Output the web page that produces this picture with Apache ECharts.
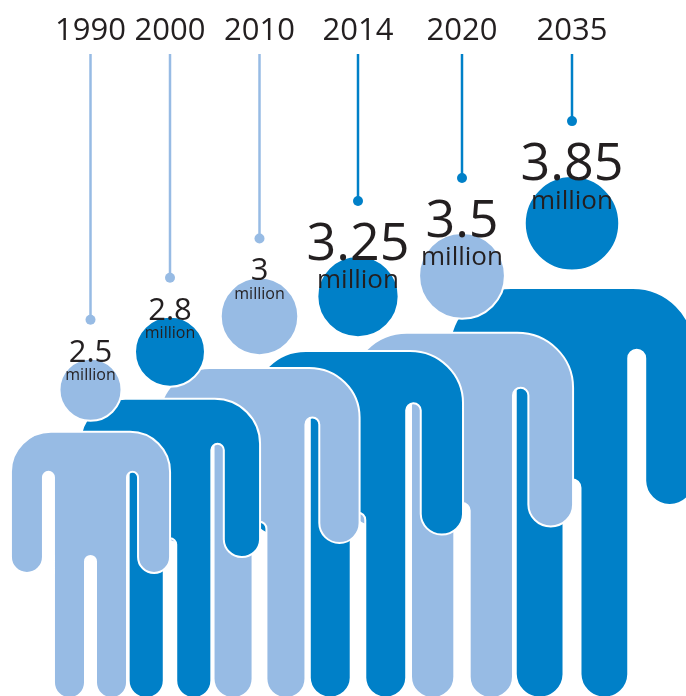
<!DOCTYPE html>
<html>
<head>
<meta charset="utf-8">
<style>html,body{margin:0;padding:0;background:#fff}#chart{width:686px;height:696px}</style>
<script src="https://cdn.jsdelivr.net/npm/echarts@6/dist/echarts.min.js"></script>
</head>
<body>
<div id="chart"></div>
<script>
// Chart data
const years = ['1990', '2000', '2010', '2014', '2020', '2035'];
const values = [2.5, 2.8, 3, 3.25, 3.5, 3.85];           // population, million (as labelled)
const figureHeights = [2.5, 2.81, 3.1, 3.26, 3.43, 3.85]; // figure height on the y axis
const figureWidths = [2.5, 2.83, 3.145, 3.3, 3.49, 3.85]; // figure breadth, same units
const columnCentres = [90.5, 170, 259.5, 358, 462, 572];  // x axis position of each column

const LIGHT = '#97bbe4', BLUE = '#0080c8', INK = '#231f20', FONT = '"Open Sans", sans-serif';
const BASE = 338;   // shape below is in units of a figure this tall
const SHAPE = {hw: 79.5, shoulder: 266, rs: 40, armIn: 47.5, armEnd: 125, slotIn: 36.5, slotTop: 226,
               gap: 5.5, gapTop: 142, head: 30};
const STEM_TOP_VALUE = 4.76;

function bodyPath(cx, fy, sx, sy) {
  const S = SHAPE;
  const X = u => (cx + u * sx).toFixed(2), Y = v => (fy - v * sy).toFixed(2);
  const arc = (rx, ry, sweep, u, v) => `A${(rx * sx).toFixed(2)} ${(ry * sy).toFixed(2)} 0 0 ${sweep} ${X(u)} ${Y(v)}`;
  const L = (u, v) => `L${X(u)} ${Y(v)}`;
  const ra = (S.hw - S.armIn) / 2, rl = (S.slotIn - S.gap) / 2, rg = S.gap, rt = (S.armIn - S.slotIn) / 2;
  return [
    `M${X(-S.hw + S.rs)} ${Y(S.shoulder)}`,
    L(S.hw - S.rs, S.shoulder),
    arc(S.rs, S.rs, 1, S.hw, S.shoulder - S.rs),
    L(S.hw, S.armEnd + ra),
    arc(ra, ra, 1, S.armIn, S.armEnd + ra),
    L(S.armIn, S.slotTop - rt),
    arc(rt, rt, 0, S.slotIn, S.slotTop - rt),
    L(S.slotIn, rl),
    arc(rl, rl, 1, S.gap, rl),
    L(S.gap, S.gapTop - rg),
    arc(rg, rg, 0, -S.gap, S.gapTop - rg),
    L(-S.gap, rl),
    arc(rl, rl, 1, -S.slotIn, rl),
    L(-S.slotIn, S.slotTop - rt),
    arc(rt, rt, 0, -S.armIn, S.slotTop - rt),
    L(-S.armIn, S.armEnd + ra),
    arc(ra, ra, 1, -S.hw, S.armEnd + ra),
    L(-S.hw, S.shoulder - S.rs),
    arc(S.rs, S.rs, 1, -S.hw + S.rs, S.shoulder),
    'Z'
  ].join(' ');
}

function renderFigure(params, api) {
  const i = api.value(3);
  const foot = api.coord([api.value(0), 0]);
  const top = api.coord([api.value(0), api.value(1)]);
  const ppm = api.size([0, 1])[1];
  const sy = api.value(1) * ppm / BASE;
  const sx = api.value(2) * ppm / BASE;
  const cx = foot[0], fy = foot[1], headTop = top[1];
  const r = SHAPE.head * sx;
  const large = values[i] >= 3.25;
  const fill = i % 2 === 0 ? LIGHT : BLUE;
  const stemColor = Number(years[i]) >= 2014 ? BLUE : LIGHT;
  const dotY = headTop - (large ? 56 : 40);
  const stemTop = api.coord([api.value(0), STEM_TOP_VALUE])[1];
  const numY = headTop + (large ? -12 : -7);
  const milY = headTop + (large ? 24 : 16);
  const text = (t, y, size, z2) => ({
    type: 'text', z2,
    style: {x: cx, y, text: t, font: `${size}px ${FONT}`, fill: INK, align: 'center', verticalAlign: 'middle'}
  });
  return {
    type: 'group',
    children: [
      {type: 'path', shape: {pathData: bodyPath(cx, fy, sx, sy)},
       style: {fill, stroke: '#fff', lineWidth: 2}},
      {type: 'circle', shape: {cx, cy: headTop + r, r: r + 1},
       style: {fill, stroke: '#fff', lineWidth: 2}},
      {type: 'line', shape: {x1: cx, y1: stemTop, x2: cx, y2: dotY},
       style: {stroke: stemColor, lineWidth: 2.5}},
      {type: 'circle', shape: {cx, cy: dotY, r: 5}, style: {fill: stemColor}},
      text(years[i], 31, 31, 50),
      text(String(values[i]), numY, large ? 52 : 31, 50),
      text('million', milY, large ? 26 : 16, 50)
    ]
  };
}

const drawOrder = years.map((_, i) => years.length - 1 - i);

const chart = echarts.init(document.getElementById('chart'), null, {renderer: 'canvas'});
chart.setOption({
  animation: false,
  backgroundColor: '#fff',
  grid: {left: 0, right: 0, top: 0, bottom: 0, containLabel: false},
  xAxis: {type: 'value', min: 0, max: 686, show: false},
  yAxis: {type: 'value', min: 0.015, max: 5.159, show: false},
  series: [{
    type: 'custom',
    coordinateSystem: 'cartesian2d',
    clip: false,
    renderItem: renderFigure,
    encode: {x: 0, y: 1},
    data: drawOrder.map(i => [columnCentres[i], figureHeights[i], figureWidths[i], i])
  }]
});
</script>
</body>
</html>
